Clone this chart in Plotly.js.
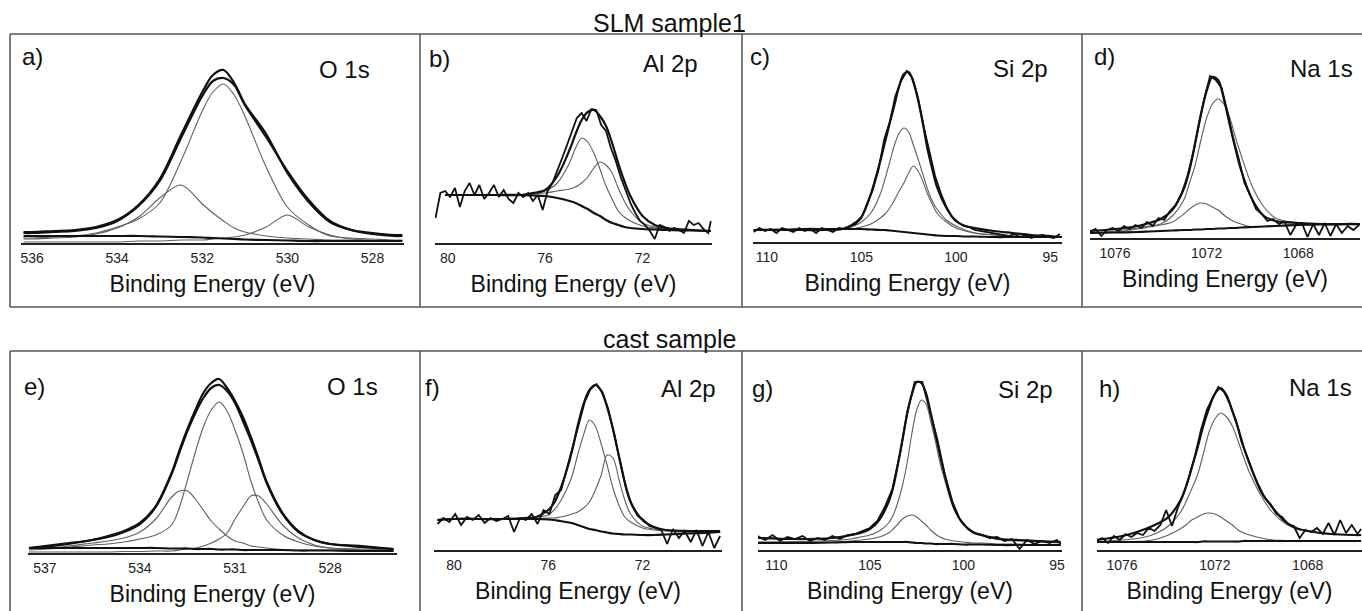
<!DOCTYPE html>
<html>
<head>
<meta charset="utf-8">
<script src="https://cdn.plot.ly/plotly-3.0.1.min.js"></script>
<style>
  html, body { margin: 0; padding: 0; background: #fff; }
  #chart { width: 1362px; height: 611px; }
</style>
</head>
<body>
<div id="chart"></div>
<script>
// ---------------- DATA (binding energy in eV, intensity in arbitrary units) ----------------
// a) SLM sample 1, O 1s
const aE    = [536.2, 536, 535.5, 535, 534.5, 534, 533.5, 533, 532.5, 532, 531.75, 531.5, 531.25, 531, 530.5, 530, 529.5, 529, 528.5, 528, 527.5, 527.3];
const aRaw  = [11, 11, 12, 13, 16, 23, 38, 64, 108, 151, 168, 173, 160, 139, 109, 70, 41, 21, 13, 10, 8, 8];
const aEnv  = [10, 10, 11, 12, 15, 22, 37, 62, 105, 147, 162, 165, 158, 138, 106, 72, 43, 22, 13, 9, 7, 7];
const aMain = [5, 5, 6, 7, 10, 16, 24, 40, 82, 132, 151, 159, 148, 127, 76, 36, 18, 7, 5, 4, 3, 3];
const aC2   = [4, 4, 5, 6, 9, 15, 26, 45, 58, 39, 30, 22, 15, 11, 7, 5, 4, 3, 3, 2, 2, 2];
const aC3   = [1, 1, 1, 1, 1, 1, 2, 2, 3, 3, 4, 5, 6, 8, 16, 28, 16, 8, 4, 3, 2, 2];
const aBg   = [7, 7, 7, 7, 7, 7, 7, 6.5, 6, 5.5, 5, 4.5, 4, 3.5, 3, 2.5, 2, 2, 2, 2, 2, 2];

// b) SLM sample 1, Al 2p
const bRawE = [80.5, 80.3, 80.1, 79.9, 79.7, 79.5, 79.3, 79.1, 78.9, 78.7, 78.5, 78.3, 78.1, 77.9, 77.7, 77.5, 77.3, 77.1, 76.9, 76.7, 76.5, 76.3, 76.1, 75.9, 75.7, 75.5, 75.3, 75.1, 74.9, 74.7, 74.5, 74.3, 74.1, 73.9, 73.7, 73.5, 73.3, 73.1, 72.9, 72.7, 72.5, 72.3, 72.1, 71.9, 71.7, 71.5, 71.3, 71.1, 70.9, 70.7, 70.5, 70.3, 70.1, 69.9, 69.7, 69.5, 69.3, 69.2];
const bRaw  = [25, 50, 52, 46, 55, 36, 52, 60, 48, 58, 44, 50, 58, 46, 53, 44, 40, 50, 46, 50, 42, 48, 33, 52, 60, 72, 85, 98, 112, 125, 130, 122, 134, 133, 118, 112, 95, 82, 66, 52, 40, 30, 22, 18, 12, 4, 18, 16, 12, 15, 13, 10, 22, 18, 20, 14, 10, 22];
const bE    = [80.1, 80, 79, 78, 77, 76.5, 76, 75.5, 75, 74.75, 74.5, 74.25, 74, 73.75, 73.5, 73.25, 73, 72.75, 72.5, 72, 71.5, 71, 70, 69.2];
const bEnv  = [48, 48, 48, 48, 48, 50, 53, 67, 93, 109, 123, 131, 133, 127, 117, 100, 80, 62, 47, 27, 18, 15, 13, 12];
const bBg   = [48, 48, 48, 48, 48, 47.5, 47, 45, 42, 40, 37, 34, 30, 27, 23, 20, 18, 16, 15, 14, 13.5, 13, 12.5, 12];
const bC1   = [48, 48, 48, 48, 48, 49, 52, 60, 80, 95, 105, 101, 90, 74, 57, 44, 32, 26, 22, 17, 15, 14, 13, 12];
const bC2   = [48, 48, 48, 48, 48, 49, 50, 52, 54, 56, 60, 66, 75, 81, 78, 70, 55, 42, 32, 20, 16, 14, 13, 12];

// c) SLM sample 1, Si 2p
const cRawE = [110.7, 110.4, 110.1, 109.8, 109.5, 109.2, 108.9, 108.6, 108.3, 108.0, 107.7, 107.4, 107.1, 106.8, 106.5, 106.2, 105.9, 105.6, 105.3, 105.0, 104.7, 104.4, 104.1, 103.8, 103.5, 103.2, 102.9, 102.6, 102.3, 102.0, 101.7, 101.4, 101.1, 100.8, 100.5, 100.2, 99.9, 99.6, 99.3, 99.0, 98.7, 98.4, 98.1, 97.8, 97.5, 97.2, 96.9, 96.6, 96.3, 96.0, 95.7, 95.4, 95.1, 94.8, 94.5];
const cRaw  = [10, 14, 11, 13, 9, 14, 12, 10, 14, 11, 13, 9, 14, 12, 10, 14, 13, 16, 18, 24, 38, 52, 72, 102, 120, 146, 161, 171, 164, 144, 115, 89, 66, 49, 35, 25, 20, 16, 15, 12, 11, 10, 9, 8, 7, 6, 8, 5, 7, 4, 6, 7, 5, 4, 8];
const cE    = [110.7, 109, 108, 107, 106, 105.5, 105, 104.5, 104, 103.75, 103.5, 103.25, 103, 102.75, 102.5, 102.25, 102, 101.75, 101.5, 101.25, 101, 100.5, 100, 99.5, 99, 98, 97, 96, 95, 94.4];
const cEnv  = [12, 12, 12, 12, 13, 17, 25, 48, 81, 100, 119, 137, 156, 168, 170, 160, 142, 119, 93, 73, 55, 34, 21, 16, 14, 11, 9, 7, 6, 5];
const cC1   = [12, 12, 12, 12, 13, 15, 20, 29, 48, 63, 80, 97, 109, 114, 110, 97, 83, 68, 53, 41, 33, 22, 16, 12, 9, 7, 6, 5, 5, 5];
const cC2   = [12, 12, 12, 12, 13, 13, 15, 18, 24, 28, 34, 42, 51, 59, 69, 76, 71, 61, 48, 38, 29, 20, 14, 11, 9, 7, 6, 5, 5, 5];
const cBg   = [12, 12.5, 13, 13, 13, 13, 13, 12.5, 12, 12, 11.5, 11, 10.5, 10, 9.5, 9, 8.5, 8, 7.5, 7, 6.5, 6, 6, 5.5, 5.5, 5, 5, 5, 5, 5];

// d) SLM sample 1, Na 1s
const dRawE = [1077.1, 1076.85, 1076.6, 1076.35, 1076.1, 1075.85, 1075.6, 1075.35, 1075.1, 1074.85, 1074.6, 1074.35, 1074.1, 1073.85, 1073.6, 1073.35, 1073.1, 1072.85, 1072.6, 1072.35, 1072.1, 1071.85, 1071.6, 1071.35, 1071.1, 1070.85, 1070.6, 1070.35, 1070.1, 1069.85, 1069.6, 1069.35, 1069.1, 1068.85, 1068.6, 1068.35, 1068.1, 1067.85, 1067.6, 1067.35, 1067.1, 1066.85, 1066.6, 1066.35, 1066.1, 1065.85, 1065.6, 1065.35];
const dRaw  = [6, 9, 2, 8, 10, 7, 12, 9, 13, 10, 16, 12, 20, 18, 27, 33, 44, 61, 84, 113, 140, 162, 158, 150, 127, 100, 79, 55, 43, 29, 24, 17, 19, 14, 16, 3, 13, 15, 1, 14, 3, 15, 2, 14, 5, 12, 8, 13];
const dE    = [1077.1, 1076, 1075, 1074.5, 1074, 1073.5, 1073, 1072.75, 1072.5, 1072.25, 1072, 1071.75, 1071.5, 1071.25, 1071, 1070.75, 1070.5, 1070, 1069.5, 1069, 1068, 1067, 1066, 1065.3];
const dEnv  = [7, 9, 12, 15, 19, 28, 49, 68, 95, 124, 147, 161, 158, 139, 114, 90, 68, 38, 22, 17, 15, 14, 14, 14];
const dMain = [5, 7, 10, 12, 14, 22, 38, 55, 73, 98, 120, 134, 139, 134, 121, 101, 83, 51, 31, 20, 15, 13.5, 13, 13];
const dC2   = [5, 6, 9, 11, 13, 16, 24, 29, 33, 35, 34, 31, 28, 23, 19, 16, 14, 11, 11.5, 12, 13, 13.5, 14, 14];
const dBg   = [5, 5.5, 6, 6.5, 7, 7.5, 8, 8, 8.5, 8.5, 9, 9, 9.5, 9.5, 10, 10, 10.5, 11, 11.5, 12, 13, 13.5, 14, 14];

// e) cast sample, O 1s
const eE    = [537.5, 536.5, 535.5, 535, 534.5, 534, 533.5, 533, 532.75, 532.5, 532.25, 532, 531.75, 531.5, 531.25, 531, 530.75, 530.5, 530.25, 530, 529.5, 529, 528.5, 528, 527, 526];
const eRaw  = [5, 9, 13, 17, 22, 30, 47, 80, 103, 124, 143, 160, 170, 174, 165, 152, 136, 116, 94, 71, 40, 22, 13, 9, 6, 4];
const eEnv  = [5, 8, 13, 16, 21, 29, 46, 79, 101, 122, 140, 155, 165, 168, 162, 150, 132, 113, 92, 70, 39, 21, 13, 9, 7, 4];
const eMain = [3, 5, 8, 9, 11, 14, 18, 28, 46, 73, 101, 126, 143, 151, 142, 123, 100, 72, 50, 33, 18, 11, 7, 5, 4, 3];
const eC2   = [4, 6, 10, 12, 15, 21, 34, 56, 62, 62, 54, 43, 32, 24, 17, 12, 10, 7, 6, 5, 3, 3, 3, 3, 3, 2];
const eC3   = [1, 1, 1, 1, 1.5, 1.5, 2, 2, 3, 4, 5, 7, 10, 14, 20, 34, 46, 57, 57, 49, 28, 15, 8, 5, 3, 2];
const eBg   = [5, 5, 5, 5, 5, 5, 5, 4.5, 4.5, 4.5, 4, 4, 4, 3.5, 3.5, 3.5, 3, 3, 3, 3, 3, 2.5, 2.5, 2.5, 2, 2];

// f) cast sample, Al 2p
const fRawE = [80.7, 80.45, 80.2, 79.95, 79.7, 79.45, 79.2, 78.95, 78.7, 78.45, 78.2, 77.95, 77.7, 77.45, 77.2, 76.95, 76.7, 76.45, 76.2, 75.95, 75.7, 75.45, 75.2, 74.95, 74.7, 74.45, 74.2, 73.95, 73.7, 73.45, 73.2, 72.95, 72.7, 72.45, 72.2, 71.95, 71.7, 71.45, 71.2, 70.95, 70.7, 70.45, 70.2, 69.95, 69.7, 69.45, 69.2, 68.95, 68.7];
const fRaw  = [26, 32, 28, 36, 25, 33, 30, 35, 27, 32, 29, 31, 34, 18, 32, 30, 36, 26, 40, 36, 55, 60, 82, 104, 128, 148, 161, 166, 158, 141, 116, 88, 62, 45, 34, 30, 24, 22, 20, 6, 21, 12, 19, 8, 20, 4, 18, 2, 14];
const fE    = [80.7, 80, 79, 78, 77, 76.5, 76, 75.75, 75.5, 75.25, 75, 74.75, 74.5, 74.25, 74, 73.75, 73.5, 73.25, 73, 72.75, 72.5, 72, 71.5, 71, 70, 69, 68.7];
const fEnv  = [30, 31, 31, 31, 32, 33, 40, 47, 60, 77, 98, 124, 146, 160, 165, 159, 143, 121, 94, 68, 48, 30, 23, 20, 19, 19, 19];
const fBg   = [30, 31, 31, 31, 31, 31, 30.5, 30, 29, 28, 27, 25, 23, 21, 20, 18.5, 17.5, 16.5, 16, 15.5, 15.5, 15, 15, 15.5, 16.5, 17.5, 18];
const fC1   = [30, 31, 31, 31, 32, 33, 35, 40, 48, 59, 73, 95, 115, 130, 124, 106, 85, 62, 45, 33, 28, 22, 20, 19, 18, 18, 18];
const fC2   = [30, 31, 31, 31, 31, 31.5, 32, 32, 33, 34, 36, 38, 42, 48, 60, 75, 95, 92, 71, 50, 36, 24, 21, 20, 18, 18, 18];

// g) cast sample, Si 2p
const gRawE = [111, 110.6, 110.2, 109.8, 109.4, 109, 108.6, 108.2, 107.8, 107.4, 107, 106.6, 106.2, 105.8, 105.4, 105, 104.6, 104.2, 103.8, 103.4, 103, 102.6, 102.2, 101.8, 101.4, 101, 100.6, 100.2, 99.8, 99.4, 99, 98.6, 98.2, 97.8, 97.4, 97, 96.6, 96.2, 95.8, 95.4, 95, 94.8];
const gRaw  = [14, 10, 15, 9, 13, 11, 14, 9, 12, 10, 14, 11, 15, 16, 19, 22, 29, 43, 61, 95, 138, 168, 168, 140, 111, 76, 49, 31, 22, 17, 15, 12, 13, 9, 11, 1, 10, 6, 9, 7, 10, 6];
const gE    = [111, 109, 107, 106, 105.5, 105, 104.5, 104, 103.75, 103.5, 103.25, 103, 102.75, 102.5, 102.25, 102, 101.75, 101.5, 101.25, 101, 100.5, 100, 99.5, 99, 98, 97, 96, 94.8];
const gEnv  = [12, 11, 12, 15, 17, 21, 30, 48, 63, 86, 111, 137, 156, 168, 167, 157, 137, 116, 95, 75, 42, 26, 18, 15, 11, 10, 9, 8];
const gMain = [8, 8.5, 9.5, 11, 13, 15, 19, 27, 35, 48, 65, 88, 117, 140, 150, 146, 129, 109, 87, 70, 41, 26, 17, 14, 10, 9, 8, 7];
const gC2   = [7, 7, 8, 9, 10, 11, 13, 17, 21, 26, 31, 34, 35, 33, 29, 25, 20, 16, 13, 11, 9, 8, 7, 7, 6, 6, 5, 5];
const gBg   = [7, 7, 7.5, 8, 8, 8, 8, 8, 8, 8, 8, 8, 7.5, 7, 7, 6.5, 6.5, 6, 6, 6, 6, 5.5, 5.5, 5.5, 5, 5, 5, 5];

// h) cast sample, Na 1s
const hRawE = [1077.1, 1076.85, 1076.6, 1076.35, 1076.1, 1075.85, 1075.6, 1075.35, 1075.1, 1074.85, 1074.6, 1074.35, 1074.1, 1073.85, 1073.6, 1073.35, 1073.1, 1072.85, 1072.6, 1072.35, 1072.1, 1071.85, 1071.6, 1071.35, 1071.1, 1070.85, 1070.6, 1070.35, 1070.1, 1069.85, 1069.6, 1069.35, 1069.1, 1068.85, 1068.6, 1068.35, 1068.1, 1067.85, 1067.6, 1067.35, 1067.1, 1066.85, 1066.6, 1066.35, 1066.1, 1065.85, 1065.7];
const hRaw  = [9, 12, 7, 14, 10, 16, 13, 17, 15, 22, 19, 25, 40, 24, 42, 56, 74, 95, 120, 140, 152, 163, 158, 146, 130, 108, 93, 77, 64, 52, 46, 36, 33, 26, 24, 12, 20, 18, 22, 16, 27, 15, 30, 17, 25, 16, 21];
const hE    = [1077.1, 1076, 1075.5, 1075, 1074.5, 1074, 1073.5, 1073.25, 1073, 1072.75, 1072.5, 1072.25, 1072, 1071.75, 1071.5, 1071.25, 1071, 1070.75, 1070.5, 1070, 1069.5, 1069, 1068.5, 1068, 1067, 1066, 1065.7];
const hEnv  = [10, 14, 17, 21, 26, 33, 49, 63, 82, 102, 124, 142, 156, 162, 155, 139, 122, 102, 86, 58, 42, 29, 22, 19, 16, 15, 15];
const hMain = [8, 10, 11, 13, 17, 24, 37, 48, 61, 75, 96, 118, 131, 137, 133, 124, 109, 92, 77, 54, 37, 27, 21, 19, 16, 15, 15];
const hC2   = [8, 8, 8.5, 9, 11, 15, 21, 25, 30, 33, 36, 37, 36, 33, 29, 25, 20, 17, 15, 12, 10, 9.5, 9, 9, 9, 9, 9];
const hBg   = [8, 8, 8, 8, 8, 8, 8, 8, 8, 8, 8.5, 8.5, 8.5, 8.5, 8.5, 8.5, 8.5, 9, 9, 9, 9, 9, 9, 9, 9, 9, 9];

// Tick labels / text
const rowTitles   = ['SLM sample1', 'cast sample'];
const panelLetters = ['a)', 'b)', 'c)', 'd)', 'e)', 'f)', 'g)', 'h)'];
const coreLevels  = ['O 1s', 'Al 2p', 'Si 2p', 'Na 1s', 'O 1s', 'Al 2p', 'Si 2p', 'Na 1s'];
const ticksO1sSLM = [536, 534, 532, 530, 528];
const ticksO1sCast = [537, 534, 531, 528];
const ticksAl = [80, 76, 72];
const ticksSi = [110, 105, 100, 95];
const ticksNa = [1076, 1072, 1068];
const xTitle = 'Binding Energy (eV)';

// ---------------- LAYOUT HELPERS ----------------
const W = 1362, H = 611;
const FONT = 'Liberation Sans, Arial, Helvetica, sans-serif';
const fx = p => p / W;
const fy = p => 1 - p / H;

const THIN  = {color: '#5f5f5f', width: 1.1, shape: 'spline', smoothing: 0.9};
const THICK = {color: '#111111', width: 2.2, shape: 'spline', smoothing: 0.9};
const RAW   = {color: '#111111', width: 1.8, shape: 'linear'};

const panels = [
  {x0: 21,   x1: 404,  axisY: 243, top: 40,  range: [536.26, 527.26], ticks: ticksO1sSLM,
   series: [[aE, aMain, THIN], [aE, aC2, THIN], [aE, aC3, THIN], [aE, aBg, THICK], [aE, aEnv, THICK], [aE, aRaw, THICK]]},
  {x0: 435,  x1: 712,  axisY: 243, top: 40,  range: [80.52, 69.15], ticks: ticksAl,
   series: [[bE, bC1, THIN], [bE, bC2, THIN], [bE, bBg, THICK], [bE, bEnv, THICK], [bRawE, bRaw, RAW]]},
  {x0: 753,  x1: 1062, axisY: 242, top: 40,  range: [110.74, 94.38], ticks: ticksSi,
   series: [[cE, cC1, THIN], [cE, cC2, THIN], [cE, cBg, THICK], [cE, cEnv, THICK], [cRawE, cRaw, RAW]]},
  {x0: 1090, x1: 1360, axisY: 238, top: 40,  range: [1077.09, 1065.31], ticks: ticksNa,
   series: [[dE, dMain, THIN], [dE, dC2, THIN], [dE, dBg, THICK], [dE, dEnv, THICK], [dRawE, dRaw, RAW]]},
  {x0: 28,   x1: 397,  axisY: 553, top: 360, range: [537.53, 525.89], ticks: ticksO1sCast,
   series: [[eE, eMain, THIN], [eE, eC2, THIN], [eE, eC3, THIN], [eE, eBg, THICK], [eE, eEnv, THICK], [eE, eRaw, THICK]]},
  {x0: 434,  x1: 722,  axisY: 550, top: 360, range: [80.85, 68.62], ticks: ticksAl,
   series: [[fE, fC1, THIN], [fE, fC2, THIN], [fE, fBg, THICK], [fE, fEnv, THICK], [fRawE, fRaw, RAW]]},
  {x0: 758,  x1: 1062, axisY: 550, top: 360, range: [110.98, 94.73], ticks: ticksSi,
   series: [[gE, gMain, THIN], [gE, gC2, THIN], [gE, gBg, THICK], [gE, gEnv, THICK], [gRawE, gRaw, RAW]]},
  {x0: 1097, x1: 1362, axisY: 550, top: 360, range: [1077.08, 1065.66], ticks: ticksNa,
   series: [[hE, hMain, THIN], [hE, hC2, THIN], [hE, hBg, THICK], [hE, hEnv, THICK], [hRawE, hRaw, RAW]]}
];

// label positions (px)
const letterPos = [[20, 56], [427, 58], [748, 57], [1092, 57], [22, 386], [423, 387], [750, 388], [1097, 388]];
const corePos   = [[344, 69], [670, 64], [1020, 68], [1321, 68], [352, 386], [688, 388], [1025, 389], [1320, 387]];

const data = [];
const layout = {
  width: W, height: H,
  margin: {l: 0, r: 0, t: 0, b: 0, pad: 0},
  paper_bgcolor: '#ffffff', plot_bgcolor: 'rgba(0,0,0,0)',
  showlegend: false,
  font: {family: FONT, color: '#111'},
  shapes: [], annotations: []
};

panels.forEach((p, i) => {
  const n = i + 1;
  const xa = 'x' + (n === 1 ? '' : n), ya = 'y' + (n === 1 ? '' : n);
  p.series.forEach(s => {
    data.push({x: s[0], y: s[1], type: 'scatter', mode: 'lines', line: s[2],
               xaxis: xa, yaxis: ya, hoverinfo: 'skip'});
  });
  layout['xaxis' + (n === 1 ? '' : n)] = {
    domain: [fx(p.x0), fx(p.x1)], anchor: ya, range: p.range,
    showgrid: false, zeroline: false, showline: true, linecolor: '#222', linewidth: 1.6,
    tickmode: 'array', tickvals: p.ticks, ticktext: p.ticks.map(String),
    ticks: 'outside', ticklen: 2, tickcolor: 'rgba(0,0,0,0)',
    tickfont: {family: FONT, size: 14, color: '#222'},
    title: {text: xTitle, font: {family: FONT, size: 23, color: '#111'}, standoff: 10},
    fixedrange: true
  };
  layout['yaxis' + (n === 1 ? '' : n)] = {
    domain: [fy(p.axisY), fy(p.top)], anchor: xa, range: [0, p.axisY - p.top],
    visible: false, fixedrange: true
  };
  layout.annotations.push({xref: 'paper', yref: 'paper', x: fx(letterPos[i][0]), y: fy(letterPos[i][1]),
    xanchor: 'left', yanchor: 'middle', text: panelLetters[i], showarrow: false,
    font: {family: FONT, size: 24, color: '#111'}});
  layout.annotations.push({xref: 'paper', yref: 'paper', x: fx(corePos[i][0]), y: fy(corePos[i][1]),
    xanchor: 'center', yanchor: 'middle', text: coreLevels[i], showarrow: false,
    font: {family: FONT, size: 24, color: '#111'}});
});

// row titles
layout.annotations.push({xref: 'paper', yref: 'paper', x: fx(669), y: fy(23), xanchor: 'center', yanchor: 'middle',
  text: rowTitles[0], showarrow: false, font: {family: FONT, size: 25, color: '#111'}});
layout.annotations.push({xref: 'paper', yref: 'paper', x: fx(669), y: fy(339), xanchor: 'center', yanchor: 'middle',
  text: rowTitles[1], showarrow: false, font: {family: FONT, size: 25, color: '#111'}});

// frame lines
const FR = {color: '#555', width: 1.5};
function hline(y, xa, xb) { layout.shapes.push({type: 'line', xref: 'paper', yref: 'paper', x0: fx(xa), x1: fx(xb), y0: fy(y), y1: fy(y), line: FR}); }
function vline(x, ya, yb) { layout.shapes.push({type: 'line', xref: 'paper', yref: 'paper', x0: fx(x), x1: fx(x), y0: fy(ya), y1: fy(yb), line: FR}); }
hline(34, 10, 1362); hline(307, 10, 1362); hline(351, 10, 1362);
[10, 420, 742, 1082].forEach(x => { vline(x, 34, 307); vline(x, 351, 611); });

Plotly.newPlot('chart', data, layout, {staticPlot: true, displayModeBar: false});
</script>
</body>
</html>
